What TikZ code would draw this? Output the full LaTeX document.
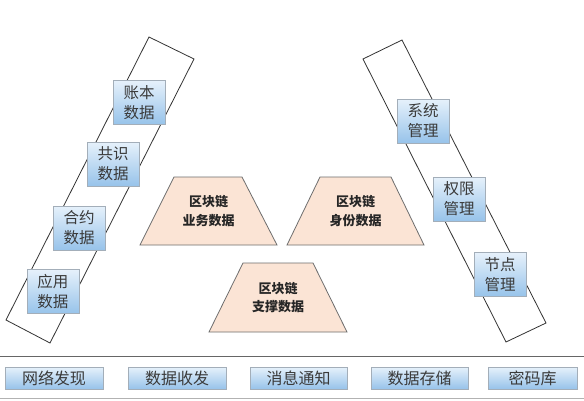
\documentclass[tikz,border=0pt]{standalone}
\usepackage{fontspec}
\newfontfamily\cjk{Noto Sans CJK SC}
\definecolor{boxtop}{HTML}{E6F1FB}
\definecolor{boxbot}{HTML}{97C3EA}
\definecolor{boxborder}{HTML}{A3AEB9}
\definecolor{textgray}{HTML}{3A3A3A}
\definecolor{peach}{HTML}{FBE4D5}
\definecolor{trapborder}{HTML}{6E6E6E}
\begin{document}
\begin{tikzpicture}[x=1pt,y=-1pt,
  band/.style={draw=black!80, line width=0.8pt},
  bluebox/.style={draw=boxborder, line width=0.8pt, top color=boxtop, bottom color=boxbot,
    minimum width=52pt, minimum height=44pt, inner sep=0pt, align=center,
    font=\cjk\fontsize{15.5}{20}\selectfont, text=textgray},
  trapshape/.style={draw=trapborder, fill=peach, line width=0.8pt},
  traptext/.style={font=\cjk\bfseries\fontsize{13}{18.5}\selectfont, align=center, text=black!85},
  basebox/.style={draw=boxborder, line width=0.8pt, top color=boxtop, bottom color=boxbot,
    minimum height=22pt, inner sep=0pt, font=\cjk\fontsize{16}{18}\selectfont, text=textgray}
]
\useasboundingbox (0,0) rectangle (584,400);
\fill[white] (0,0) rectangle (584,400);

% bands
\draw[band] (149,37) -- (194,59) -- (50,343) -- (6,320) -- cycle;
\draw[band] (402,40) -- (546,323) -- (506,342) -- (363,59) -- cycle;

% left boxes
\node[bluebox] (zb) at (139,102.5) {账本\\数据};
\node[bluebox] (gs) at (113,164) {共识\\数据};
\node[bluebox] (hy) at (79,228) {合约\\数据};
\node[bluebox] (yy) at (53,291.5) {应用\\数据};

% right boxes
\node[bluebox] (xt) at (423,121) {系统\\管理};
\node[bluebox] (qx) at (459,199) {权限\\管理};
\node[bluebox] (jd) at (500,274.5) {节点\\管理};

% trapezoids
\draw[trapshape] (140,245) -- (174,177) -- (242,177) -- (277,245) -- cycle;
\node[traptext] (yw) at (208.5,211) {区块链\\业务数据};
\draw[trapshape] (287,245) -- (320,177) -- (391,177) -- (424,245) -- cycle;
\node[traptext] (sf) at (355.5,211) {区块链\\身份数据};
\draw[trapshape] (209,332) -- (243,263) -- (313,263) -- (347,332) -- cycle;
\node[traptext] (zc) at (278,297.5) {区块链\\支撑数据};

% bottom layer
\draw[black!60, line width=1pt] (0,356) -- (584,356);
\draw[black!30, line width=0.8pt] (0,398) -- (584,398);
\node[basebox, minimum width=98pt] (wl) at (54,378) {网络发现};
\node[basebox, minimum width=98pt] (sj) at (177,378) {数据收发};
\node[basebox, minimum width=97pt] (xx) at (298.5,378) {消息通知};
\node[basebox, minimum width=97pt] (cc) at (419.5,378) {数据存储};
\node[basebox, minimum width=89pt] (mm) at (532.5,378) {密码库};
\end{tikzpicture}
\end{document}
